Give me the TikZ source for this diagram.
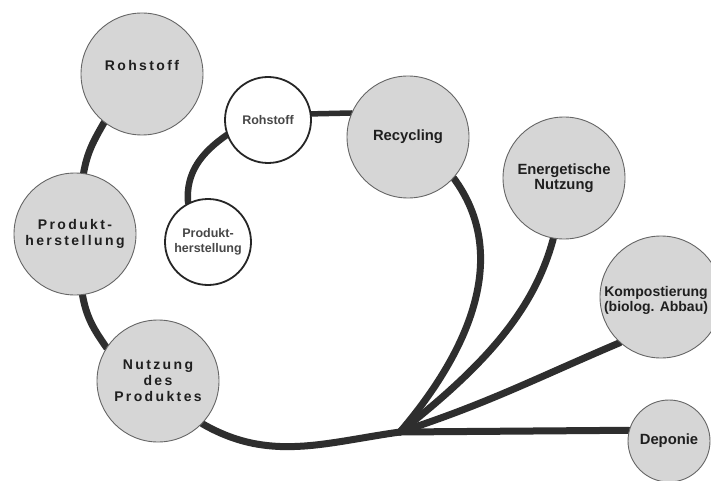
\documentclass[tikz,border=0pt]{standalone}
\usepackage{fontspec}
\setmainfont{Liberation Sans}
\newfontfamily\spacedfont[LetterSpace=17]{Liberation Sans}
\usetikzlibrary{backgrounds}
\definecolor{linkcol}{HTML}{2E2E2E}
\definecolor{discfill}{HTML}{D6D6D6}
\begin{document}
\begin{tikzpicture}[x=1pt,y=1pt,
  big/.style={circle, draw=black!60, line width=0.9pt, fill=discfill, minimum size=122pt,
    inner sep=0pt, text=black!88, align=center, font=\bfseries\fontsize{14.8}{15.5}\selectfont},
  bigsp/.style={big, font=\spacedfont\bfseries\fontsize{14}{16}\selectfont},
  smalldisc/.style={circle, draw=black!85, line width=1.8pt, fill=white, minimum size=86pt,
    inner sep=0pt, text=black!72, align=center, font=\bfseries\fontsize{12.5}{15}\selectfont},
  link/.style={draw=linkcol, line width=7pt, line cap=round},
  thinlink/.style={draw=linkcol, line width=5.5pt, line cap=round}
]
\useasboundingbox (0,0) rectangle (711,480);

% outer chain
\node[bigsp, text depth=17pt] (rohO) at (142,406) {Rohstoff};
\node[bigsp] (prodO) at (75,246) {Produkt-\\herstellung};
\node[bigsp] (nutz) at (158,99) {Nutzung\\des\\Produktes};

% loop
\node[big] (rec) at (408,343) {Recycling};
\node[smalldisc] (rohS) at (268,360) {Rohstoff};
\node[smalldisc] (prodS) at (208,238) {Produkt-\\herstellung};

% end of life
\node[big] (energ) at (564,302) {Energetische\\Nutzung};
\node[big] (komp) at (661,183) {};
\node[font=\bfseries\fontsize{14}{15}\selectfont, text=black!88, align=center, inner sep=0pt]
  (kompt) at ([xshift=-5pt,yshift=-3pt]komp.center) {Kompostierung\\(biolog. Abbau)};
\node[big, minimum size=82pt] (dep) at (669,39) {Deponie};

\coordinate (J) at (400,48);

\begin{scope}[on background layer]
  \fill[white] (0,0) rectangle (711,480);
  \draw[link] (rohO.232) to[out=240, in=80] (prodO.82);
  \draw[link] (prodO.-83) to[out=-80, in=125] (nutz.147);
  \draw[link] (nutz.-44) to[out=-30, in=188] (J);
  \draw[link] (J) to[out=49.5, in=-53.5, out distance=107pt, in distance=96pt] (rec.-42);
  \draw[link] (energ.260) to[out=255, in=38, out distance=70pt, in distance=115pt] (J);
  \draw[link] (komp.228) to[out=203, in=18] (J);
  \draw[link] (dep.165) -- (J);
  \draw[thinlink] (rohS.8) -- (rec.157);
  \draw[link, line width=6.5pt] (rohS.200) to[out=215, in=95] (prodS.117);
\end{scope}
\end{tikzpicture}
\end{document}
